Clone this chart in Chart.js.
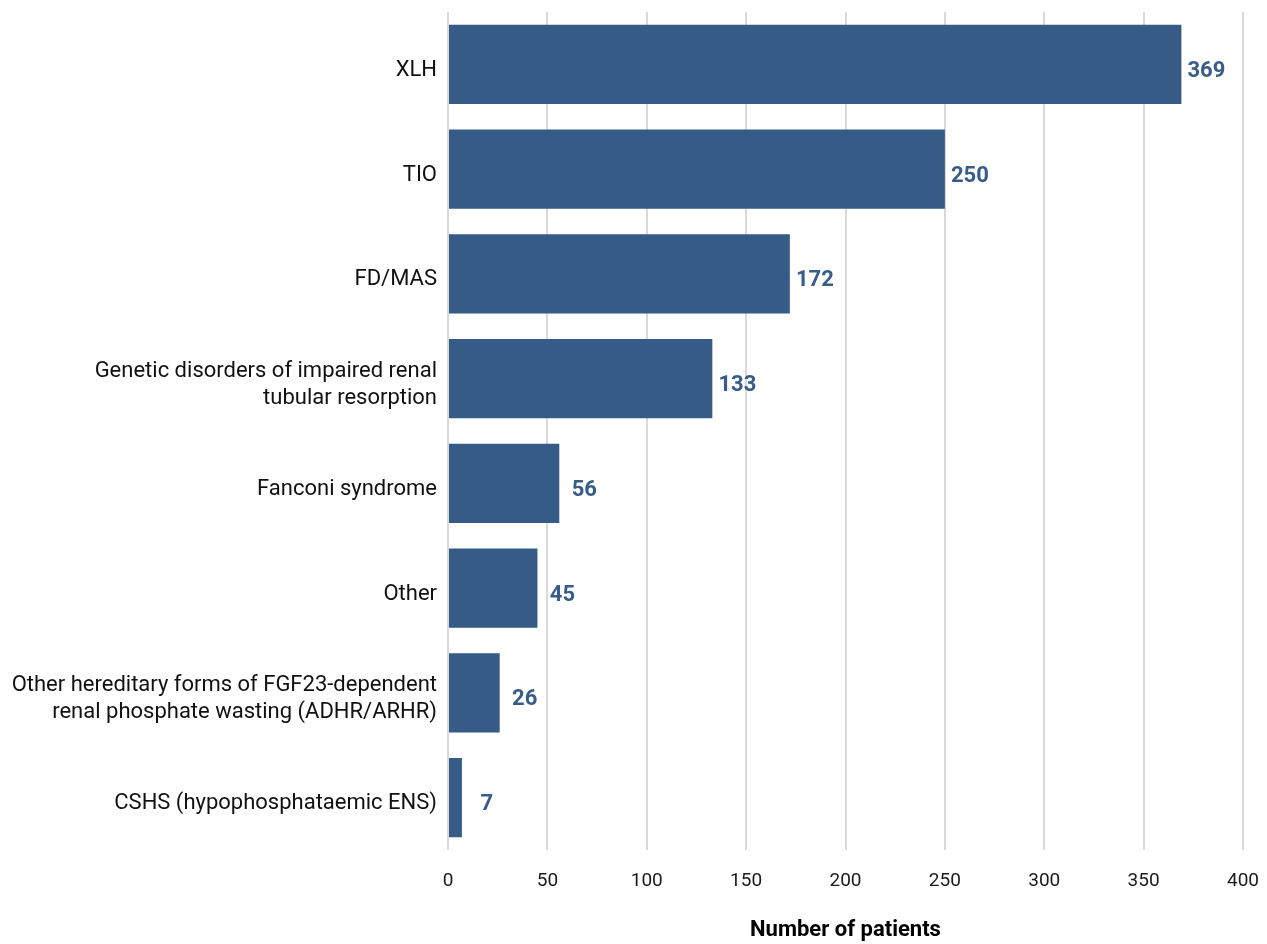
<!DOCTYPE html>
<html>
<head>
<meta charset="utf-8">
<script src="https://cdn.jsdelivr.net/npm/chart.js@4/dist/chart.umd.min.js"></script>
<style>
  html, body { margin: 0; padding: 0; background: #ffffff; }
  #wrap { width: 1267px; height: 944px; position: relative; }
</style>
</head>
<body>
<div id="wrap"><canvas id="chart"></canvas></div>
<script>
// Patient counts per diagnosis
const categories = [
  'XLH',
  'TIO',
  'FD/MAS',
  ['Genetic disorders of impaired renal', 'tubular resorption'],
  'Fanconi syndrome',
  'Other',
  ['Other hereditary forms of FGF23-dependent', 'renal phosphate wasting (ADHR/ARHR)'],
  'CSHS (hypophosphataemic ENS)'
];
const patients = [369, 250, 172, 133, 56, 45, 26, 7];
const xTicks = [0, 50, 100, 150, 200, 250, 300, 350, 400];

const barColor = '#365b86';
const labelColor = '#375c88';

// Writes each bar's value just past its end
const valueLabels = {
  id: 'valueLabels',
  afterDatasetsDraw(chart) {
    const ctx = chart.ctx;
    const meta = chart.getDatasetMeta(0);
    ctx.save();
    ctx.font = 'bold 22px Roboto';
    ctx.fillStyle = labelColor;
    ctx.textAlign = 'center';
    ctx.textBaseline = 'middle';
    meta.data.forEach((bar, i) => {
      ctx.fillText(String(patients[i]), bar.x + 25, bar.y + 7);
    });
    ctx.restore();
  }
};

new Chart(document.getElementById('chart'), {
  type: 'bar',
  data: {
    labels: categories,
    datasets: [{
      data: patients,
      backgroundColor: barColor,
      borderWidth: 0,
      barPercentage: 0.755,
      categoryPercentage: 1.0
    }]
  },
  options: {
    indexAxis: 'y',
    responsive: true,
    maintainAspectRatio: false,
    animation: false,
    layout: { padding: { top: 12, right: 24, left: 0, bottom: 0 } },
    plugins: {
      legend: { display: false },
      tooltip: { enabled: false }
    },
    scales: {
      x: {
        min: 0,
        max: 400,
        afterBuildTicks(scale) {
          scale.ticks = xTicks.map(v => ({ value: v }));
        },
        afterFit(scale) {
          scale.height = 94;
          scale.paddingLeft = 0;
          scale.paddingRight = 0;
        },
        grid: {
          color: '#d9d9d9',
          lineWidth: 2,
          drawTicks: false
        },
        border: { display: false },
        ticks: {
          color: '#1a1a1a',
          font: { family: 'Roboto', size: 19 },
          padding: 20
        },
        title: {
          display: true,
          text: 'Number of patients',
          color: '#000000',
          font: { family: 'Roboto', size: 22, weight: 'bold' },
          padding: { top: 24, bottom: 0 }
        }
      },
      y: {
        afterFit(scale) {
          scale.width = 448;
          scale.paddingTop = 0;
          scale.paddingBottom = 0;
        },
        grid: { display: false, drawTicks: false },
        border: { display: false },
        ticks: {
          color: '#111111',
          font: { family: 'Roboto', size: 22, lineHeight: 1.23 },
          padding: 11,
          labelOffset: 6,
          autoSkip: false
        }
      }
    }
  },
  plugins: [valueLabels]
});
</script>
</body>
</html>
